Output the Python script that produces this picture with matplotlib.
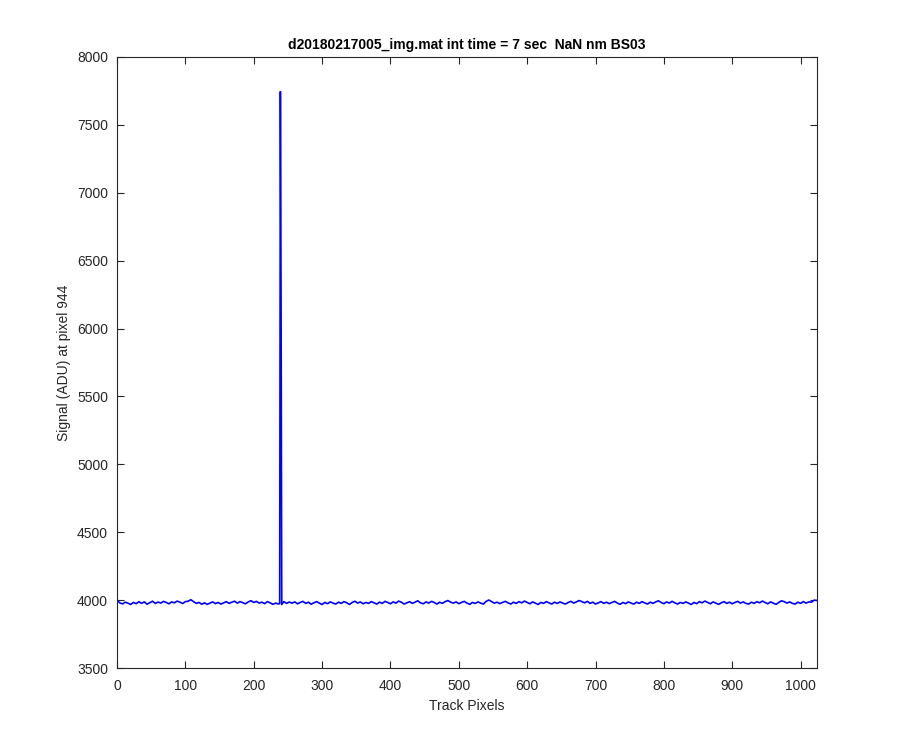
import numpy as np
import matplotlib.pyplot as plt

plt.rcParams['font.family'] = ['Liberation Sans', 'DejaVu Sans']

# baseline noise, read every 4 track pixels
noise_step = 4
noise = [
    4000, 3980, 3972, 3985, 3978, 3968, 3983, 3974, 3988, 3977, 3987, 3970, 3981, 3992, 3976, 3986,
    3978, 3991, 3983, 3973, 3987, 3980, 3993, 3985, 3975, 3989, 3992, 4003, 3989, 3976, 3983, 3970,
    3980, 3969, 3978, 3987, 3974, 3983, 3971, 3980, 3989, 3976, 3985, 3992, 3978, 3989, 3981, 3973,
    3987, 3996, 3983, 3991, 3978, 3985, 3974, 3989, 3980, 3969, 3978, 3972, 3980, 3989, 3976, 3986,
    3978, 3987, 3973, 3983, 3991, 3976, 3985, 3970, 3980, 3989, 3978, 3968, 3983, 3974, 3987, 3978,
    3971, 3985, 3976, 3989, 3981, 3968, 3983, 3992, 3978, 3987, 3973, 3983, 3976, 3989, 3980, 3971,
    3985, 3976, 3991, 3983, 3973, 3987, 3978, 3993, 3985, 3971, 3980, 3989, 3976, 3985, 3995, 3980,
    3973, 3987, 3978, 3991, 3983, 3971, 3985, 3976, 3989, 3997, 3985, 3978, 3987, 3974, 3983, 3991,
    3978, 3969, 3983, 3976, 3987, 3978, 3971, 3991, 4001, 3989, 3978, 3985, 3974, 3983, 3991, 3980,
    3971, 3985, 3976, 3989, 3980, 3993, 3983, 3973, 3987, 3978, 3968, 3983, 3976, 3989, 3980, 3971,
    3985, 3976, 3987, 3978, 3971, 3983, 3991, 3978, 3987, 3997, 3989, 3980, 3991, 3976, 3985, 3971,
    3980, 3989, 3976, 3985, 3974, 3983, 3991, 3978, 3969, 3983, 3974, 3987, 3978, 3971, 3985, 3976,
    3989, 3980, 3971, 3985, 3976, 3987, 3995, 3983, 3974, 3987, 3978, 3991, 3980, 3971, 3983, 3976,
    3987, 3978, 3968, 3983, 3974, 3989, 3980, 3993, 3983, 3973, 3987, 3978, 3969, 3980, 3989, 3976,
    3985, 3973, 3983, 3991, 3978, 3987, 3976, 3971, 3985, 3976, 3989, 3980, 3993, 3983, 3973, 3987,
    3978, 3969, 3983, 3995, 3989, 3978, 3987, 3976, 3971, 3985, 3976, 3989, 3978, 3987, 3985, 4000,
]
end_x, end_y = 1023, 3998

# cosmic-ray hit
spike_x = [238, 239, 240, 241]
spike_y = [3974, 7745, 6200, 3968]

nx = np.arange(len(noise)) * noise_step
ny = np.array(noise, dtype=float)
keep = (nx < spike_x[0]) | (nx > spike_x[-1])
x = np.concatenate([nx[keep], spike_x, [end_x]])
y = np.concatenate([ny[keep], spike_y, [end_y]])
order = np.argsort(x, kind='stable')
x, y = x[order], y[order]

fig = plt.figure(figsize=(9, 7.5), dpi=100)
ax = fig.add_axes([0.13, 0.1093, 0.7778, 0.8147])
ax.plot(x, y, color=(0, 0, 1), lw=1.2)

ax.set_xlim(0, 1024)
ax.set_ylim(3500, 8000)
ax.set_xticks(np.arange(0, 1001, 100))
ax.set_yticks(np.arange(3500, 8001, 500))

dark = (0.15, 0.15, 0.15)
for s in ax.spines.values():
    s.set_color(dark)
    s.set_linewidth(0.8)
ax.tick_params(direction='in', top=True, right=True, length=5, width=0.8,
               colors=dark, labelsize=10, labelcolor=dark)
ax.tick_params(axis='x', pad=8)
ax.tick_params(axis='y', pad=6.5)

ax.set_xlabel('Track Pixels', fontsize=10, color=dark, labelpad=4)
ax.set_ylabel('Signal (ADU) at pixel 944', fontsize=10, color=dark, labelpad=4)
ax.set_title('d20180217005_img.mat int time = 7 sec  NaN nm BS03',
             fontsize=10, fontweight='bold', color='black', pad=6)

fig.savefig('out.png', dpi=100, facecolor='white')
